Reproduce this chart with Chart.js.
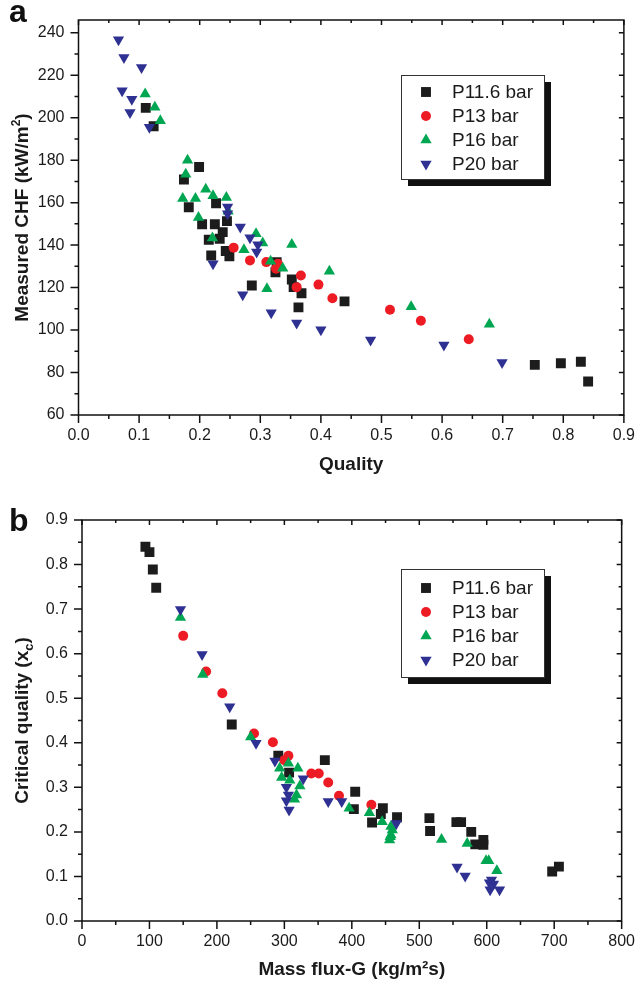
<!DOCTYPE html>
<html>
<head>
<meta charset="utf-8">
<script src="https://cdn.jsdelivr.net/npm/chart.js@4.4.0/dist/chart.umd.min.js"></script>
<style>
  body { margin: 0; background: #fff; width: 638px; height: 987px; position: relative; overflow: hidden; }
  .wrap { position: absolute; left: 0; width: 638px; }
  .tag { position: absolute; left: 9px; font: bold 32px "Liberation Sans", Arial, sans-serif; line-height: 32px; color: #111; }
</style>
</head>
<body>
<div class="wrap" style="top:0;height:490px"><canvas id="chartA"></canvas></div>
<div class="wrap" style="top:490px;height:497px"><canvas id="chartB"></canvas></div>
<div class="tag" style="top:-5px">a</div>
<div class="tag" style="top:504px">b</div>
<script>
// ---- panel a : measured CHF vs quality
const seriesNames = ['P11.6 bar', 'P13 bar', 'P16 bar', 'P20 bar'];

const qualityP116 = [0.111, 0.124, 0.199, 0.174, 0.227, 0.182, 0.245, 0.204, 0.225, 0.238, 0.233, 0.215, 0.243, 0.249, 0.219, 0.327, 0.325, 0.352, 0.355, 0.368, 0.286, 0.363, 0.439, 0.753, 0.796, 0.829, 0.841];
const chfP116 = [204.6, 196, 176.8, 170.9, 159.7, 157.8, 151.3, 149.8, 149.8, 146.1, 143, 142.5, 137.2, 134.7, 135.1, 132, 127.2, 123.8, 120.2, 117.3, 121, 110.7, 113.5, 83.6, 84.4, 85.1, 75.8];

const qualityP13 = [0.256, 0.283, 0.310, 0.329, 0.326, 0.367, 0.360, 0.396, 0.419, 0.514, 0.565, 0.644];
const chfP13 = [138.8, 132.8, 132, 131.2, 128.9, 125.7, 120.2, 121.4, 115, 109.6, 104.4, 95.7];

const qualityP16 = [0.110, 0.126, 0.135, 0.180, 0.177, 0.210, 0.222, 0.172, 0.193, 0.244, 0.198, 0.221, 0.273, 0.293, 0.304, 0.352, 0.317, 0.337, 0.311, 0.414, 0.549, 0.678, 0.247];
const chfP16 = [211.2, 204.9, 198.6, 180, 173.4, 166.3, 163.2, 161.9, 161.9, 162.4, 153, 143.3, 137.8, 145.4, 141, 140.3, 132.4, 129.1, 119.4, 127.7, 111, 102.7, 156];

const qualityP20 = [0.066, 0.075, 0.104, 0.072, 0.088, 0.085, 0.117, 0.246, 0.246, 0.267, 0.283, 0.296, 0.294, 0.222, 0.271, 0.318, 0.360, 0.400, 0.482, 0.603, 0.699];
const chfP20 = [236.7, 228.3, 223.6, 212.7, 208.7, 202.5, 195.5, 158, 154.8, 148.5, 143.5, 140.2, 136.7, 131.2, 116.6, 108.1, 103.3, 100.2, 95.3, 93, 84.7];

const xTicksA = [0, 0.1, 0.2, 0.3, 0.4, 0.5, 0.6, 0.7, 0.8, 0.9];
const yTicksA = [60, 80, 100, 120, 140, 160, 180, 200, 220, 240];

// ---- panel b : critical quality vs mass flux
const fluxP116 = [94, 100, 105, 110, 222, 291, 307, 360, 405, 403, 446, 443, 430, 467, 515, 516, 555, 562, 577, 583, 595, 595, 697, 707];
const xcP116 = [0.84, 0.828, 0.789, 0.748, 0.441, 0.371, 0.333, 0.361, 0.29, 0.251, 0.253, 0.24, 0.221, 0.233, 0.231, 0.202, 0.222, 0.222, 0.2, 0.172, 0.182, 0.171, 0.111, 0.122];

const fluxP13 = [150, 184, 208, 255, 283, 306, 300, 340, 351, 365, 381, 429];
const xcP13 = [0.64, 0.56, 0.511, 0.421, 0.401, 0.371, 0.361, 0.331, 0.331, 0.311, 0.281, 0.261];

const fluxP16 = [146, 179, 250, 306, 293, 320, 296, 308, 323, 318, 315, 396, 426, 445, 458, 458, 460, 457, 456, 533, 571, 599, 603, 615];
const xcP16 = [0.681, 0.553, 0.413, 0.354, 0.343, 0.343, 0.322, 0.316, 0.303, 0.283, 0.273, 0.253, 0.243, 0.223, 0.212, 0.193, 0.204, 0.189, 0.182, 0.183, 0.174, 0.135, 0.135, 0.113];

const fluxP20 = [146, 178, 219, 258, 286, 328, 303, 306, 303, 307, 365, 385, 466, 556, 568, 607, 604, 610, 605, 619];
const xcP20 = [0.699, 0.598, 0.481, 0.399, 0.359, 0.319, 0.30, 0.283, 0.27, 0.249, 0.268, 0.268, 0.219, 0.121, 0.101, 0.092, 0.086, 0.083, 0.07, 0.07];

const xTicksB = [0, 100, 200, 300, 400, 500, 600, 700, 800];
const yTicksB = [0, 0.1, 0.2, 0.3, 0.4, 0.5, 0.6, 0.7, 0.8, 0.9];

Chart.defaults.font.family = '"Liberation Sans", Arial, sans-serif';
Chart.defaults.color = '#1a1a1a';

const FONT = '"Liberation Sans", Arial, sans-serif';
const markers = [
  { pointStyle: 'rect', pointRadius: 7, color: '#1c1c1c', rot: 0, order: 4 },
  { pointStyle: 'circle', pointRadius: 5, color: '#ed1c24', rot: 0, order: 3 },
  { pointStyle: 'triangle', pointRadius: 6.5, color: '#00a651', rot: 0, order: 2 },
  { pointStyle: 'triangle', pointRadius: 6.5, color: '#2e3192', rot: 180, order: 1 },
];

const toPts = (xs, ys) => xs.map((x, i) => ({ x: x, y: ys[i] }));

function makeDatasets(pairs) {
  return pairs.map((p, i) => ({
    label: seriesNames[i],
    data: toPts(p[0], p[1]),
    pointStyle: markers[i].pointStyle,
    pointRadius: markers[i].pointRadius,
    pointRotation: markers[i].rot,
    pointBorderWidth: 0,
    backgroundColor: markers[i].color,
    borderColor: markers[i].color,
    order: markers[i].order,
    showLine: false,
  }));
}

// box + ticks on all four sides (major and minor)
function withMinor(vals) {
  const out = [];
  vals.forEach((v, i) => {
    out.push({ v: v, major: true });
    if (i < vals.length - 1) out.push({ v: (v + vals[i + 1]) / 2, major: false });
  });
  return out;
}

const frame = {
  id: 'frame',
  afterDatasetsDraw(chart, args, o) {
    const { ctx, chartArea: a } = chart;
    const x = chart.scales.x, y = chart.scales.y;
    ctx.save();
    ctx.strokeStyle = '#111';
    ctx.lineWidth = 1.5;
    ctx.strokeRect(a.left, a.top, a.right - a.left, a.bottom - a.top);
    ctx.beginPath();
    withMinor(o.xTicks).forEach(t => {
      const px = x.getPixelForValue(t.v);
      if (px < a.left - 0.5 || px > a.right + 0.5) return;
      ctx.moveTo(px, a.bottom); ctx.lineTo(px, a.bottom + (t.major ? 8 : 4));
      ctx.moveTo(px, a.top); ctx.lineTo(px, a.top + (t.major ? 5 : 3));
    });
    withMinor(o.yTicks).forEach(t => {
      const py = y.getPixelForValue(t.v);
      if (py < a.top - 0.5 || py > a.bottom + 0.5) return;
      ctx.moveTo(a.left, py); ctx.lineTo(a.left - (t.major ? 8 : 4), py);
      ctx.moveTo(a.right, py); ctx.lineTo(a.right - (t.major ? 5 : 3), py);
    });
    ctx.stroke();
    ctx.restore();
  }
};

// vertical axis title with super/subscript pieces
const richTitle = {
  id: 'richTitle',
  afterDraw(chart, args, o) {
    const { ctx, chartArea: a } = chart;
    ctx.save();
    ctx.translate(o.x, (a.top + a.bottom) / 2);
    ctx.rotate(-Math.PI / 2);
    ctx.fillStyle = '#1a1a1a';
    ctx.textBaseline = 'alphabetic';
    let w = 0;
    o.parts.forEach(p => { ctx.font = 'bold ' + p.size + 'px ' + FONT; w += ctx.measureText(p.t).width; });
    let cx = -w / 2;
    o.parts.forEach(p => {
      ctx.font = 'bold ' + p.size + 'px ' + FONT;
      ctx.fillText(p.t, cx, 7 + (p.dy || 0));
      cx += ctx.measureText(p.t).width;
    });
    ctx.restore();
  }
};

// legend in a framed box with a drop shadow
const boxLegend = {
  id: 'boxLegend',
  afterDraw(chart, args, o) {
    const { ctx } = chart;
    ctx.save();
    ctx.fillStyle = '#111';
    ctx.fillRect(o.left + 7, o.top + 7, o.width, o.height);
    ctx.fillStyle = '#fff';
    ctx.fillRect(o.left, o.top, o.width, o.height);
    ctx.strokeStyle = '#333';
    ctx.lineWidth = 1;
    ctx.strokeRect(o.left + 0.5, o.top + 0.5, o.width, o.height);
    chart.data.datasets.forEach((ds, i) => {
      const cy = o.top + o.first + i * o.gap;
      ctx.fillStyle = ds.backgroundColor;
      Chart.helpers.drawPoint(ctx, { pointStyle: ds.pointStyle, rotation: ds.pointRotation, radius: ds.pointRadius, borderWidth: 0 }, o.left + 25, cy);
      ctx.fillStyle = '#1a1a1a';
      ctx.font = '19px ' + FONT;
      ctx.textBaseline = 'middle';
      ctx.fillText(ds.label, o.left + 51, cy + 1);
    });
    ctx.restore();
  }
};

function makeChart(id, cfg) {
  return new Chart(document.getElementById(id), {
    type: 'scatter',
    data: { datasets: cfg.datasets },
    plugins: [frame, richTitle, boxLegend],
    options: {
      responsive: true,
      maintainAspectRatio: false,
      animation: false,
      layout: { padding: { left: 0, right: 12, top: cfg.top, bottom: 0 } },
      plugins: {
        legend: { display: false },
        tooltip: { enabled: false },
        frame: { xTicks: cfg.xTicks, yTicks: cfg.yTicks },
        richTitle: { x: 21, parts: cfg.yTitle },
        boxLegend: cfg.legend,
      },
      scales: {
        x: {
          type: 'linear', position: 'bottom', min: cfg.xMin, max: cfg.xMax,
          afterBuildTicks: s => { s.ticks = cfg.xTicks.map(v => ({ value: v })); },
          afterFit: s => { s.height = cfg.xHeight; },
          grid: { display: true, drawOnChartArea: false, drawTicks: true, tickLength: 8, color: 'transparent' },
          border: { display: false },
          ticks: { font: { size: 16 }, color: '#1a1a1a', padding: 3, maxRotation: 0, callback: cfg.xFmt },
          title: { display: true, text: cfg.xTitle, font: { size: 19, weight: 'bold' }, color: '#1a1a1a', padding: { top: 0, bottom: cfg.xTitlePad } },
        },
        y: {
          type: 'linear', min: cfg.yMin, max: cfg.yMax,
          afterBuildTicks: s => { s.ticks = cfg.yTicks.map(v => ({ value: v })); },
          afterFit: s => { s.width = cfg.yWidth; },
          grid: { display: true, drawOnChartArea: false, drawTicks: true, tickLength: 8, color: 'transparent' },
          border: { display: false },
          ticks: { font: { size: 16 }, color: '#1a1a1a', padding: 6, callback: cfg.yFmt },
        },
      },
    },
  });
}

makeChart('chartA', {
  datasets: makeDatasets([[qualityP116, chfP116], [qualityP13, chfP13], [qualityP16, chfP16], [qualityP20, chfP20]]),
  top: 20, xHeight: 75, yWidth: 78.5, xTitlePad: 14,
  xMin: 0, xMax: 0.9, yMin: 60, yMax: 246,
  xTicks: xTicksA, yTicks: yTicksA,
  xFmt: v => Number(v).toFixed(1), yFmt: v => String(v),
  xTitle: 'Quality',
  yTitle: [{ t: 'Measured CHF (kW/m', size: 19 }, { t: '2', size: 12, dy: -8 }, { t: ')', size: 19 }],
  legend: { left: 401, top: 75, width: 143, height: 104, first: 17, gap: 24 },
});

makeChart('chartB', {
  datasets: makeDatasets([[fluxP116, xcP116], [fluxP13, xcP13], [fluxP16, xcP16], [fluxP20, xcP20]]),
  top: 30, xHeight: 66, yWidth: 82, xTitlePad: 6,
  xMin: 0, xMax: 800, yMin: 0, yMax: 0.9,
  xTicks: xTicksB, yTicks: yTicksB,
  xFmt: v => String(v), yFmt: v => Number(v).toFixed(1),
  xTitle: 'Mass flux-G (kg/m²s)',
  yTitle: [{ t: 'Critical quality (x', size: 19 }, { t: 'c', size: 13, dy: 5 }, { t: ')', size: 19 }],
  legend: { left: 401, top: 79, width: 143, height: 108, first: 19, gap: 24 },
});
</script>
</body>
</html>
